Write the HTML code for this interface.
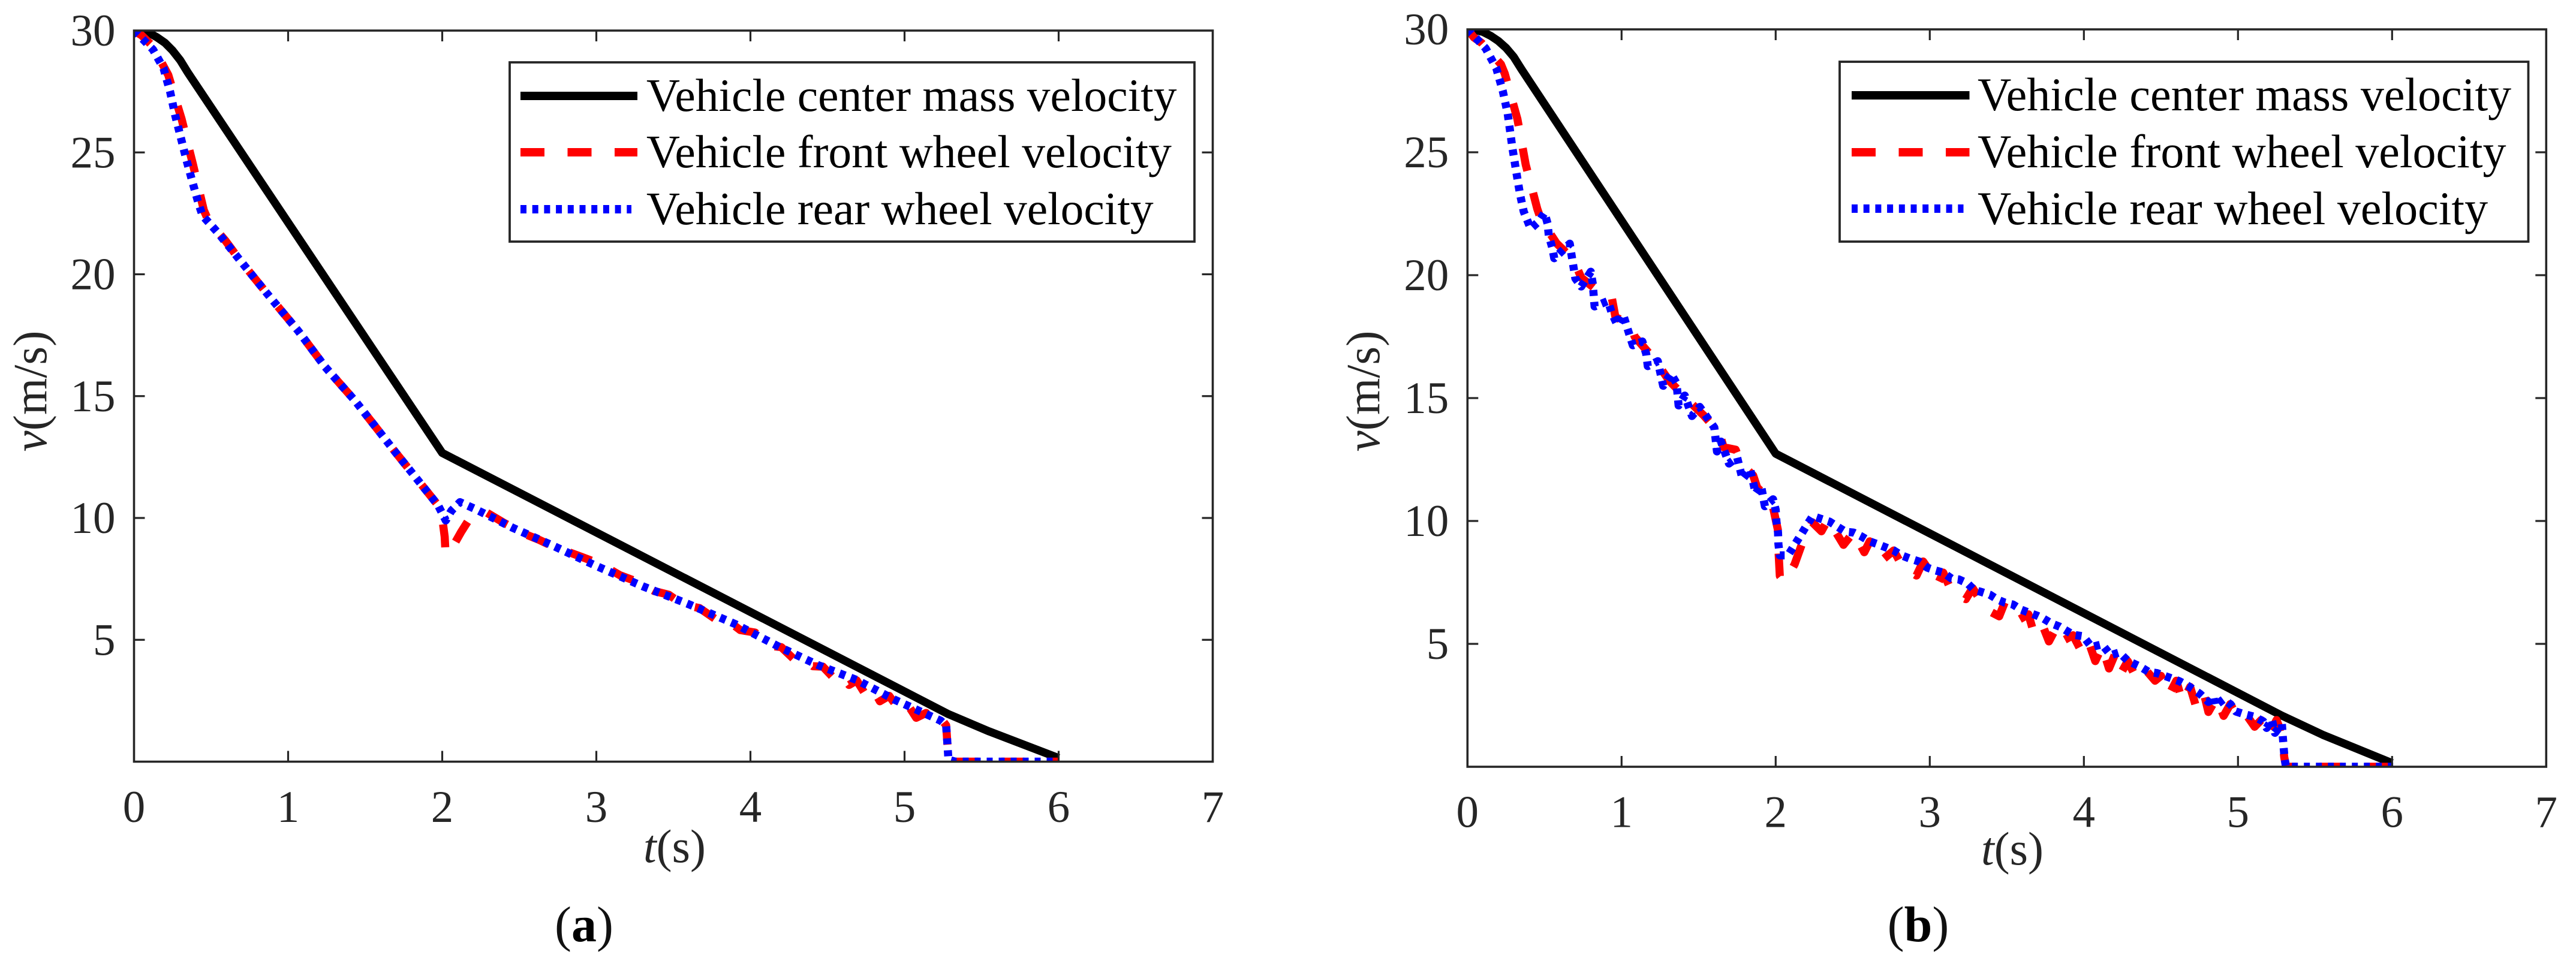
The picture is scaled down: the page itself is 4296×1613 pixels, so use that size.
<!DOCTYPE html>
<html lang="en">
<head>
<meta charset="utf-8">
<title>Vehicle velocity charts</title>
<style>
html,body{margin:0;padding:0;background:#fff;}
body{width:4296px;height:1613px;overflow:hidden;}
svg{display:block;}
text{font-family:"Liberation Serif",serif;}
</style>
</head>
<body>
<svg id="figure" xmlns="http://www.w3.org/2000/svg" width="4296" height="1613" viewBox="0 0 4296 1613">
<rect x="0" y="0" width="4296" height="1613" fill="#fff"/>
</svg>
<script>
const xTickValues = [0, 1, 2, 3, 4, 5, 6, 7];
const yTickValues = [5, 10, 15, 20, 25, 30];
const legendLabels = ['Vehicle center mass velocity', 'Vehicle front wheel velocity', 'Vehicle rear wheel velocity'];

const aCenterT = [0, 0.04, 0.1, 0.15, 0.2, 0.25, 0.3, 0.35, 2, 5.285, 5.55, 6];
const aCenterV = [30, 29.98, 29.9, 29.72, 29.5, 29.18, 28.78, 28.27, 12.67, 1.95, 1.24, 0.15];
const aFrontT = [0, 0.05, 0.123, 0.222, 0.309, 0.383, 0.453, 0.483, 0.594, 0.681, 0.867, 1.066, 1.24, 1.438, 1.7, 1.973, 2.0, 2.016, 2.02, 2.04, 2.08, 2.123, 2.17, 2.28, 2.4, 2.46, 2.532, 2.63, 2.73, 2.82, 2.905, 3.03, 3.153, 3.26, 3.376, 3.47, 3.56, 3.67, 3.773, 3.85, 3.934, 4.03, 4.133, 4.2, 4.28, 4.34, 4.405, 4.47, 4.542, 4.59, 4.64, 4.69, 4.74, 4.79, 4.84, 4.9, 4.965, 5.02, 5.076, 5.14, 5.2, 5.25, 5.27, 5.28, 5.285, 5.3, 6];
const aFrontV = [30, 29.8, 29.35, 28.18, 26.37, 24.5, 22.63, 22.2, 21.37, 20.63, 19.18, 17.67, 16.2, 14.78, 12.67, 10.52, 10.0, 9.23, 8.75, 8.5, 8.95, 9.43, 9.9, 10.25, 9.8, 9.6, 9.35, 9.1, 8.8, 8.6, 8.4, 8.1, 7.65, 7.4, 7.0, 6.85, 6.45, 6.3, 5.85, 5.8, 5.4, 5.3, 4.75, 4.7, 4.22, 4.25, 3.92, 3.9, 3.42, 3.55, 3.15, 3.33, 2.82, 3.05, 2.48, 2.7, 2.15, 2.35, 1.8, 2.0, 1.55, 1.65, 1.49, 0.55, 0.08, 0, 0];
const aRearT = [0, 0.011, 0.123, 0.192, 0.235, 0.267, 0.302, 0.339, 0.379, 0.421, 0.445, 0.545, 0.681, 0.867, 1.066, 1.24, 1.438, 1.7, 1.973, 2.023, 2.06, 2.115, 2.21, 2.457, 2.706, 3, 3.3, 3.6, 3.9, 4.19, 4.44, 4.69, 4.94, 5.235, 5.27, 5.28, 5.285, 5.33, 6.0];
const aRearV = [30, 29.94, 29.22, 28.45, 27.47, 26.53, 25.65, 24.72, 23.79, 22.85, 22.4, 21.7, 20.63, 19.18, 17.67, 16.2, 14.78, 12.67, 10.52, 9.9, 10.3, 10.65, 10.38, 9.6, 8.9, 8.03, 7.2, 6.46, 5.65, 4.7, 3.96, 3.35, 2.53, 1.68, 1.49, 0.55, 0.08, 0, 0];

const bCenterT = [0, 0.04, 0.1, 0.15, 0.2, 0.25, 0.3, 0.35, 2, 5.285, 5.55, 6];
const bCenterV = [30, 29.98, 29.9, 29.74, 29.53, 29.25, 28.88, 28.38, 12.74, 2.08, 1.3, 0.15];
const bFrontT = [0, 0.042, 0.092, 0.217, 0.242, 0.324, 0.378, 0.453, 0.477, 0.578, 0.688, 0.738, 0.838, 0.936, 0.96, 1.06, 1.085, 1.21, 1.31, 1.433, 1.532, 1.636, 1.662, 1.74, 1.775, 1.854, 1.88, 1.975, 2.014, 2.018, 2.027, 2.053, 2.088, 2.123, 2.175, 2.237, 2.297, 2.34, 2.44, 2.505, 2.575, 2.61, 2.68, 2.766, 2.827, 2.914, 2.957, 3.054, 3.087, 3.147, 3.234, 3.278, 3.366, 3.45, 3.486, 3.583, 3.64, 3.668, 3.72, 3.773, 3.82, 3.862, 3.93, 3.985, 4.03, 4.074, 4.118, 4.163, 4.2, 4.24, 4.285, 4.34, 4.4, 4.462, 4.5, 4.55, 4.6, 4.64, 4.69, 4.73, 4.78, 4.808, 4.86, 4.907, 4.95, 5.0, 5.05, 5.108, 5.15, 5.197, 5.25, 5.264, 5.29, 5.3, 5.31, 5.33, 6];
const bFrontV = [30, 29.67, 29.45, 28.58, 28.2, 26.35, 24.5, 22.7, 22.26, 21.3, 20.63, 19.9, 19.4, 19.1, 18.3, 17.97, 17.5, 16.6, 15.7, 14.9, 14.3, 13.56, 13.0, 12.9, 12.34, 11.85, 11.36, 10.78, 9.65, 8.83, 7.76, 7.56, 7.84, 8.24, 9.15, 9.95, 9.58, 10.07, 9.03, 9.54, 8.73, 9.17, 8.35, 8.8, 8.1, 7.78, 8.35, 7.46, 7.9, 7.07, 6.82, 7.27, 6.4, 6.12, 6.68, 6.0, 6.2, 5.6, 5.95, 5.1, 5.65, 5.12, 5.35, 4.68, 5.1, 4.3, 4.9, 4.0, 4.55, 3.8, 4.3, 3.6, 3.95, 3.5, 3.7, 2.9, 3.5, 2.62, 3.25, 2.4, 2.95, 2.23, 2.8, 2.07, 2.55, 2.0, 2.15, 1.63, 1.9, 1.24, 1.9, 1.68, 1.0, 0.4, 0.05, 0, 0];
const bRearT = [0, 0.011, 0.118, 0.187, 0.229, 0.261, 0.291, 0.316, 0.341, 0.365, 0.41, 0.465, 0.5, 0.52, 0.528, 0.551, 0.563, 0.664, 0.676, 0.7, 0.738, 0.8, 0.813, 0.825, 0.912, 0.936, 0.973, 1.01, 1.048, 1.073, 1.135, 1.16, 1.17, 1.235, 1.27, 1.32, 1.357, 1.37, 1.41, 1.457, 1.507, 1.602, 1.619, 1.645, 1.697, 1.75, 1.785, 1.835, 1.87, 1.905, 1.93, 1.983, 2.0, 2.005, 2.015, 2.018, 2.027, 2.08, 2.123, 2.16, 2.2, 2.24, 2.287, 2.35, 2.4, 2.453, 2.505, 2.557, 2.61, 2.663, 2.713, 2.766, 2.817, 2.87, 2.93, 2.984, 3.035, 3.087, 3.14, 3.19, 3.245, 3.286, 3.34, 3.39, 3.44, 3.486, 3.54, 3.59, 3.643, 3.695, 3.74, 3.79, 3.843, 3.93, 3.996, 4.05, 4.118, 4.174, 4.23, 4.285, 4.363, 4.42, 4.475, 4.55, 4.62, 4.674, 4.752, 4.808, 4.84, 4.85, 4.907, 4.953, 4.986, 5.04, 5.108, 5.163, 5.186, 5.22, 5.24, 5.285, 5.29, 5.296, 5.302, 5.31, 5.33, 6.007];
const bRearV = [30, 29.94, 29.23, 28.42, 27.49, 26.57, 25.2, 24.23, 23.3, 22.59, 21.89, 22.2, 22.54, 22.1, 21.6, 21.1, 20.69, 21.28, 20.8, 19.87, 19.54, 20.14, 19.66, 18.73, 18.95, 18.46, 17.97, 18.4, 17.64, 17.15, 17.3, 16.8, 16.3, 16.5, 15.5, 16.0, 15.6, 14.7, 15.1, 14.27, 14.64, 13.8, 12.83, 13.23, 12.34, 12.58, 11.7, 12.1, 11.12, 11.44, 10.6, 10.88, 10.46, 9.97, 9.54, 9.05, 8.6, 8.6, 9.03, 9.4, 9.81, 10.2, 10.1, 9.97, 9.77, 9.56, 9.53, 9.37, 9.17, 9.05, 8.93, 8.8, 8.6, 8.47, 8.35, 8.1, 7.99, 7.9, 7.66, 7.62, 7.46, 7.2, 7.1, 7.0, 6.8, 6.68, 6.6, 6.4, 6.27, 6.15, 6.02, 5.83, 5.7, 5.37, 5.31, 4.87, 4.98, 4.54, 4.65, 4.31, 4.08, 3.86, 3.81, 3.64, 3.48, 3.3, 2.97, 2.64, 2.86, 2.48, 2.75, 2.53, 2.25, 2.14, 2.03, 1.85, 1.58, 1.92, 1.38, 1.75, 1.3, 0.8, 0.37, 0.05, 0, 0];

const SVG_NS = 'http://www.w3.org/2000/svg';
const figure = document.getElementById('figure');
const AXIS_COLOR = '#262626';

function make(tag, parent, attrs) {
  const node = document.createElementNS(SVG_NS, tag);
  for (const key in attrs) node.setAttribute(key, attrs[key]);
  parent.appendChild(node);
  return node;
}

function drawPanel(p) {
  const xScale = t => p.x0 + t * p.xUnit;
  const yScale = v => p.yTop + (30 - v) * p.yUnit;
  const yBottom = yScale(0);
  const xRight = xScale(7);

  const panel = make('g', figure, {});
  
  

  const clip = make('clipPath', panel, { id: 'clip-' + p.id });
  make('rect', clip, { x: p.x0, y: p.yTop, width: xRight - p.x0, height: yBottom - p.yTop });

  const pathFor = (ts, vs) => ts.map((t, i) => (i ? 'L' : 'M') + xScale(t).toFixed(1) + ' ' + yScale(vs[i]).toFixed(1)).join(' ');

  const plot = make('g', panel, { 'clip-path': 'url(#clip-' + p.id + ')' });
  
  

  const common = { fill: 'none', 'stroke-width': 13.5, 'stroke-linejoin': 'round' };
  const center = make('path', plot, Object.assign({ d: pathFor(p.centerT, p.centerV), stroke: '#000' }, common));
  
  
  const front = make('path', plot, Object.assign({ d: pathFor(p.frontT, p.frontV), stroke: '#f00', 'stroke-dasharray': '38.5 38', 'stroke-dashoffset': 3.5 }, common));
  
  
  const rear = make('path', plot, Object.assign({ d: pathFor(p.rearT, p.rearV), stroke: '#00f', 'stroke-dasharray': '10 10' }, common));
  
  

  const frame = make('rect', panel, { x: p.x0, y: p.yTop, width: xRight - p.x0, height: yBottom - p.yTop, fill: 'none', stroke: AXIS_COLOR, 'stroke-width': 3.6 });
  
  

  xTickValues.forEach(t => {
    const x = xScale(t);
    if (t !== 0 && t !== 7) {
      const bottomTick = make('line', panel, { x1: x, x2: x, y1: yBottom, y2: yBottom - 18, stroke: AXIS_COLOR, 'stroke-width': 3.2 });
      
      
      const topTick = make('line', panel, { x1: x, x2: x, y1: p.yTop, y2: p.yTop + 18, stroke: AXIS_COLOR, 'stroke-width': 3.2 });
      
      
    }
    const label = make('text', panel, { x: x, y: yBottom + 100.5, 'text-anchor': 'middle', 'font-size': 75, fill: AXIS_COLOR });
    label.textContent = t;
    
    
  });

  yTickValues.forEach(v => {
    const y = yScale(v);
    if (v !== 30) {
      const leftTick = make('line', panel, { x1: p.x0, x2: p.x0 + 18, y1: y, y2: y, stroke: AXIS_COLOR, 'stroke-width': 3.2 });
      
      
      const rightTick = make('line', panel, { x1: xRight, x2: xRight - 18, y1: y, y2: y, stroke: AXIS_COLOR, 'stroke-width': 3.2 });
      
      
    }
    const label = make('text', panel, { x: p.x0 - 31, y: y + 25, 'text-anchor': 'end', 'font-size': 75, fill: AXIS_COLOR });
    label.textContent = v;
    
    
  });

  const xTitle = make('text', panel, { x: p.xTitleX, y: p.xTitleY, 'text-anchor': 'middle', 'font-size': 78, fill: AXIS_COLOR });
  
  
  make('tspan', xTitle, { 'font-style': 'italic' }).textContent = 't';
  make('tspan', xTitle, {}).textContent = '(s)';

  const yTitle = make('text', panel, { 'text-anchor': 'middle', 'font-size': 79, fill: AXIS_COLOR, transform: 'translate(' + p.yTitleX + ' 652.5) rotate(-90)' });
  
  
  make('tspan', yTitle, { 'font-style': 'italic' }).textContent = 'v';
  make('tspan', yTitle, {}).textContent = '(m/s)';

  const legend = make('g', panel, {});
  
  
  const legendBox = make('rect', legend, { x: p.legendX, y: p.legendTop, width: p.legendW, height: p.legendH, fill: '#fff', stroke: AXIS_COLOR, 'stroke-width': 3.8 });
  
  
  const keyStyles = [
    { stroke: '#000', dash: 'none', end: p.keyEnd },
    { stroke: '#f00', dash: '40 38.5', end: p.keyEnd },
    { stroke: '#00f', dash: '10 9.7', end: p.keyEnd - 10 }
  ];
  legendLabels.forEach((name, i) => {
    const key = make('line', legend, { x1: p.keyStart, x2: keyStyles[i].end, y1: p.keyY[i], y2: p.keyY[i], stroke: keyStyles[i].stroke, 'stroke-width': 14, 'stroke-dasharray': keyStyles[i].dash });
    
    
    const text = make('text', legend, { x: p.legendTextX, y: p.legendBase[i], 'font-size': p.legendFont, fill: '#000' });
    text.textContent = name;
    
    
  });

  const caption = make('text', panel, { x: p.captionX, y: 1570, 'text-anchor': 'middle', 'font-size': 84, fill: '#111' });
  
  
  make('tspan', caption, {}).textContent = '(';
  make('tspan', caption, { 'font-weight': 'bold', fill: '#000' }).textContent = p.id;
  make('tspan', caption, {}).textContent = ')';
}

drawPanel({
  id: 'a', x0: 223.5, xUnit: 257, yTop: 51, yUnit: 40.65,
  centerT: aCenterT, centerV: aCenterV, frontT: aFrontT, frontV: aFrontV, rearT: aRearT, rearV: aRearV,
  xTitleX: 1125, xTitleY: 1438, yTitleX: 77, captionX: 974,
  legendX: 850, legendTop: 104, legendW: 1142, legendH: 299,
  keyStart: 868, keyEnd: 1063, keyY: [160, 254, 349], legendTextX: 1078, legendBase: [185, 279, 374], legendFont: 77.5
});
drawPanel({
  id: 'b', x0: 2447.3, xUnit: 257, yTop: 49, yUnit: 41,
  centerT: bCenterT, centerV: bCenterV, frontT: bFrontT, frontV: bFrontV, rearT: bRearT, rearV: bRearV,
  xTitleX: 3356, xTitleY: 1442, yTitleX: 2300, captionX: 3199,
  legendX: 3068, legendTop: 103, legendW: 1148.5, legendH: 300,
  keyStart: 3088, keyEnd: 3284.5, keyY: [159, 254, 348], legendTextX: 3298, legendBase: [184, 279, 374], legendFont: 78
});
</script>
</body>
</html>
